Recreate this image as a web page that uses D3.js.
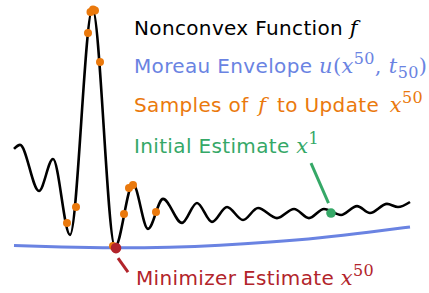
<!DOCTYPE html>
<html><head><meta charset="utf-8">
<script src="https://cdn.jsdelivr.net/npm/d3@7"></script>
<style>html,body{margin:0;padding:0;background:#fff;}svg{display:block;}</style>
</head><body>
<svg id="chart" width="429" height="293"></svg>
<script>
// Nonconvex function f: extrema (x in [0,100], f in [0,10.5])
const fX = [0, 1.52, 6.31, 9.85, 14.14, 19.82, 25.51, 30.05, 33.84, 37.63, 42.42, 46.21, 50.0, 53.79, 57.83, 61.62, 66.41, 70.71, 74.49, 78.28, 82.58, 86.62, 89.90, 94.19, 96.97, 100];
const fY = [4.21, 4.38, 2.46, 3.79, 0.63, 10.05, 0.13, 2.75, 0.88, 2.13, 1.13, 1.96, 1.17, 1.79, 1.25, 1.75, 1.33, 1.71, 1.33, 1.71, 1.46, 1.83, 1.54, 1.92, 1.79, 2.0];
// Moreau envelope u(x^50, t_50)
const uX = [0, 11.62, 25.76, 39.39, 52.02, 64.65, 77.27, 89.9, 100];
const uY = [0.19, 0.12, 0.08, 0.11, 0.19, 0.325, 0.50, 0.74, 0.96];
// Samples of f used to update x^50
const sX = [13.38, 15.66, 18.69, 19.32, 19.95, 20.45, 21.72, 25.0, 27.78, 29.04, 30.05, 35.86];
const sY = [1.125, 1.79, 9.04, 9.92, 10.02, 9.98, 7.83, 0.17, 1.5, 2.58, 2.71, 1.58];
// Initial estimate x^1 and minimizer estimate x^50
const initX = 80.05, initY = 1.54;
const minX = 25.76, minY = 0.08;

const colBlack = "#000000", colBlue = "#6a83e2", colOrange = "#ea790d", colGreen = "#35a867", colRed = "#b2242b";

const svg = d3.select("#chart");
const x = d3.scaleLinear().domain([0, 100]).range([14, 410]);
const y = d3.scaleLinear().domain([0, 10]).range([250, 10]);

const fData = fX.map((d, i) => [d, fY[i]]);
const uData = uX.map((d, i) => [d, uY[i]]);

const line = d3.line().x(d => x(d[0])).y(d => y(d[1])).curve(d3.curveMonotoneX);
const lineU = d3.line().x(d => x(d[0])).y(d => y(d[1])).curve(d3.curveBasis);

svg.append("path").attr("d", lineU(uData)).attr("fill", "none")
  .attr("stroke", colBlue).attr("stroke-width", 3).attr("stroke-linecap", "butt");
svg.append("path").attr("d", line(fData)).attr("fill", "none")
  .attr("stroke", colBlack).attr("stroke-width", 2.6).attr("stroke-linejoin", "round");

svg.selectAll("circle.s").data(sX.map((d, i) => [d, sY[i]])).enter().append("circle")
  .attr("class", "s").attr("cx", d => x(d[0])).attr("cy", d => y(d[1])).attr("r", 4)
  .attr("fill", colOrange);

// leaders
svg.append("line").attr("x1", x(initX) - 20).attr("y1", y(initY) - 50)
  .attr("x2", x(initX) - 2.5).attr("y2", y(initY) - 10)
  .attr("stroke", colGreen).attr("stroke-width", 3);
svg.append("circle").attr("cx", x(initX)).attr("cy", y(initY)).attr("r", 4.8).attr("fill", colGreen);
svg.append("line").attr("x1", x(minX) + 2).attr("y1", y(minY) + 10)
  .attr("x2", x(minX) + 12).attr("y2", y(minY) + 24)
  .attr("stroke", colRed).attr("stroke-width", 3);
svg.append("circle").attr("cx", x(minX)).attr("cy", y(minY)).attr("r", 5.3).attr("fill", colRed);

// labels
const sans = "'DejaVu Sans', sans-serif", serif = "'DejaVu Serif', serif";
function label(px, py, color, segs) {
  const t = svg.append("text").attr("x", px).attr("y", py).attr("fill", color)
    .attr("font-family", sans).attr("font-size", 20).attr("letter-spacing", 0.35);
  segs.forEach(s => {
    const ts = t.append("tspan").text(s.t);
    if (s.m) { ts.attr("font-family", serif).attr("font-style", s.up ? "normal" : "italic").attr("font-size", 21); }
    if (s.sup) { ts.attr("font-family", serif).attr("font-size", 16).attr("dy", -9); }
    if (s.sub) { ts.attr("font-family", serif).attr("font-size", 16).attr("dy", 5); }
    if (s.back) { ts.attr("dy", s.back); }
    if (s.dx) { ts.attr("dx", s.dx); }
  });
}
label(134, 35, colBlack, [{t: "Nonconvex Function "}, {t: "f", m: 1}]);
label(134, 73, colBlue, [{t: "Moreau Envelope "}, {t: "u", m: 1}, {t: "(", m: 1, up: 1}, {t: "x", m: 1},
  {t: "50", sup: 1}, {t: ", ", m: 1, up: 1, back: 9}, {t: "t", m: 1}, {t: "50", sub: 1}, {t: ")", m: 1, up: 1, back: -5}]);
label(134, 112, colOrange, [{t: "Samples of "}, {t: "f", m: 1, dx: 3}, {t: " to Update ", dx: 4}, {t: "x", m: 1, dx: 4}, {t: "50", sup: 1}]);
label(134, 153, colGreen, [{t: "Initial Estimate "}, {t: "x", m: 1}, {t: "1", sup: 1}]);
label(136, 285, colRed, [{t: "Minimizer Estimate "}, {t: "x", m: 1}, {t: "50", sup: 1}]);
</script>
</body></html>
